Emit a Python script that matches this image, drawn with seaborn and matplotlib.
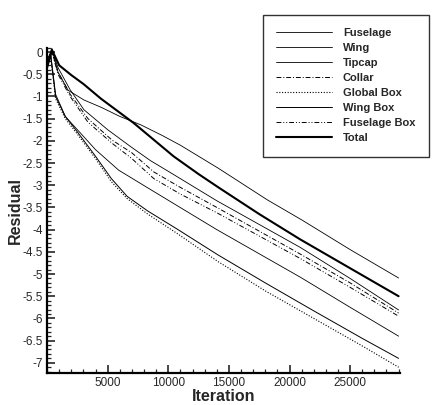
import seaborn as sns
import matplotlib.pyplot as plt
import matplotlib.ticker as mticker
import pandas as pd

# Residual history per component
labels = ['Fuselage', 'Wing', 'Tipcap', 'Collar', 'Global Box',
          'Wing Box', 'Fuselage Box', 'Total']

fuselage_it = [0, 400, 900, 1730, 3040, 4500, 6000, 7730, 9500, 11000, 14140, 18170, 21000, 25000, 29000]
fuselage_res = [-0.2, 0.08, -0.45, -0.86, -1.08, -1.25, -1.45, -1.64, -1.88, -2.1, -2.62, -3.33, -3.78, -4.45, -5.09]

wing_it = [0, 400, 900, 1900, 3040, 5000, 6990, 8550, 10200, 14000, 20880, 25000, 29000]
wing_res = [-0.25, 0.05, -0.35, -0.85, -1.3, -1.75, -2.15, -2.45, -2.72, -3.35, -4.4, -5.1, -5.81]

tipcap_it = [0, 300, 700, 1500, 2500, 4000, 5900, 8550, 10850, 14000, 20880, 25000, 29000]
tipcap_res = [-0.3, -0.05, -0.95, -1.45, -1.75, -2.2, -2.66, -3.1, -3.48, -4.0, -5.07, -5.75, -6.4]

collar_it = [0, 400, 900, 1900, 3370, 5340, 6990, 8800, 11000, 14000, 20880, 25000, 29000]
collar_res = [-0.3, 0.0, -0.45, -0.95, -1.5, -1.98, -2.27, -2.7, -3.05, -3.5, -4.55, -5.2, -5.88]

globalbox_it = [0, 300, 700, 1500, 2500, 4000, 5300, 6600, 8300, 10800, 14100, 18000, 22000, 26000, 29000]
globalbox_res = [-0.3, -0.1, -1.05, -1.5, -1.85, -2.4, -2.92, -3.3, -3.65, -4.1, -4.72, -5.38, -6.0, -6.62, -7.1]

wingbox_it = [0, 300, 700, 1500, 2500, 4000, 5300, 6600, 8300, 10800, 14100, 18000, 22000, 26000, 29000]
wingbox_res = [-0.3, -0.1, -1.0, -1.45, -1.8, -2.35, -2.85, -3.25, -3.58, -4.0, -4.57, -5.2, -5.83, -6.45, -6.9]

fusbox_it = [0, 400, 900, 1900, 3370, 5340, 6990, 8800, 11000, 14000, 20880, 25000, 29000]
fusbox_res = [-0.3, 0.0, -0.5, -1.0, -1.58, -2.05, -2.4, -2.85, -3.2, -3.62, -4.65, -5.3, -5.95]

total_it = [0, 400, 1000, 2000, 3000, 4440, 7150, 10440, 12500, 14140, 17500, 20880, 25000, 29000]
total_res = [-0.35, 0.05, -0.3, -0.52, -0.72, -1.05, -1.6, -2.35, -2.75, -3.05, -3.65, -4.22, -4.87, -5.5]

series = [
    (fuselage_it, fuselage_res, '-', 0.6),
    (wing_it, wing_res, '-', 0.6),
    (tipcap_it, tipcap_res, '-', 0.6),
    (collar_it, collar_res, (0, (5, 2, 1, 2)), 0.7),
    (globalbox_it, globalbox_res, (0, (1, 1.5)), 0.8),
    (wingbox_it, wingbox_res, '-', 0.7),
    (fusbox_it, fusbox_res, (0, (5, 2, 1, 2, 1, 2)), 0.7),
    (total_it, total_res, '-', 1.5),
]

sns.set_style('ticks')
plt.rcParams['font.family'] = ['Liberation Sans', 'DejaVu Sans']
plt.rcParams['axes.unicode_minus'] = False

fig = plt.figure(figsize=(4.36, 4.05), dpi=100)
ax = fig.add_axes([0.108, 0.079, 0.809, 0.8035])

for (it, res, ls, lw), name in zip(series, labels):
    df = pd.DataFrame({'Iteration': it, 'Residual': res})
    sns.lineplot(data=df, x='Iteration', y='Residual', ax=ax, color='black',
                 linestyle=ls, linewidth=lw, label=name, legend=False)

ax.set_xlim(0, 29100)
ax.set_ylim(-7.23, 0.1)

ax.xaxis.set_major_locator(mticker.FixedLocator([5000, 10000, 15000, 20000, 25000]))
ax.xaxis.set_minor_locator(mticker.MultipleLocator(1000))
ax.yaxis.set_major_locator(mticker.MultipleLocator(0.5))
ax.yaxis.set_minor_locator(mticker.MultipleLocator(0.1))
ax.yaxis.set_major_formatter(mticker.FuncFormatter(lambda v, p: '%g' % round(v, 2)))

ax.tick_params(which='both', direction='in', width=1.2, labelsize=8.5, pad=3)
ax.tick_params(which='major', length=6)
ax.tick_params(which='minor', length=3, width=0.9)

sns.despine(ax=ax)
for s in ['left', 'bottom']:
    ax.spines[s].set_linewidth(1.6)
    ax.spines[s].set_color('black')

ax.set_xlabel('Iteration', fontsize=11.5, fontweight='bold', labelpad=0)
ax.set_ylabel('Residual', fontsize=11.5, fontweight='bold', labelpad=0)

handles, lbls = ax.get_legend_handles_labels()
leg = fig.legend(handles, lbls, loc='upper left', bbox_to_anchor=(0.603, 0.963),
                 prop={'weight': 'bold', 'size': 8},
                 frameon=True, fancybox=False, edgecolor='black',
                 handlelength=5, handletextpad=1.0, labelspacing=0.45,
                 borderpad=1.2, borderaxespad=0)
leg.get_frame().set_linewidth(1.0)

fig.savefig('out.png', dpi=100)
